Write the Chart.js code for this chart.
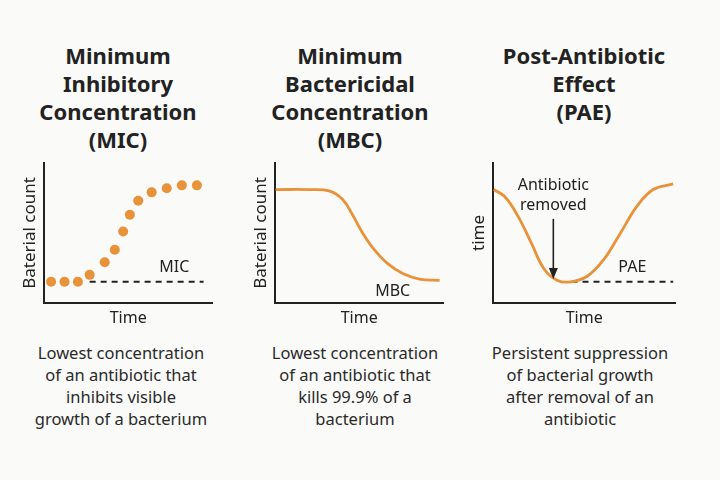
<!DOCTYPE html>
<html>
<head>
<meta charset="utf-8">
<script src="https://cdn.jsdelivr.net/npm/chart.js@4"></script>
<style>
  body { margin: 0; width: 720px; height: 480px; background: #fafaf8; font-family: "Noto Sans", sans-serif; color: #222; position: relative; overflow: hidden; }
  .title { position: absolute; top: 41px; width: 230px; text-align: center; font-weight: bold; font-size: 22px; line-height: 28px; }
  .desc { position: absolute; top: 342px; width: 240px; text-align: center; font-size: 16.5px; line-height: 22px; color: #2a2a2a; }
  .box { position: absolute; top: 150px; height: 190px; }
</style>
</head>
<body>
<div class="title" style="left:3px">Minimum<br>Inhibitory<br>Concentration<br>(MIC)</div>
<div class="title" style="left:235px">Minimum<br>Bactericidal<br>Concentration<br>(MBC)</div>
<div class="title" style="left:469px">Post-Antibiotic<br>Effect<br>(PAE)</div>

<div class="box" style="left:0px;width:230px"><canvas id="c1"></canvas></div>
<div class="box" style="left:240px;width:230px"><canvas id="c2"></canvas></div>
<div class="box" style="left:460px;width:260px"><canvas id="c3"></canvas></div>

<div class="desc" style="left:1px">Lowest concentration<br>of an antibiotic that<br>inhibits visible<br>growth of a bacterium</div>
<div class="desc" style="left:235px">Lowest concentration<br>of an antibiotic that<br>kills 99.9% of a<br>bacterium</div>
<div class="desc" style="left:460px">Persistent suppression<br>of bacterial growth<br>after removal of an<br>antibiotic</div>

<script>
// MIC panel: bacterial count readings over time
const micTime  = [0.4, 1.2, 2.0, 2.7, 3.6, 4.2, 4.7, 5.1, 5.6, 6.4, 7.3, 8.2, 9.1];
const micCount = [1.5, 1.5, 1.5, 2.0, 2.9, 3.8, 5.1, 6.3, 7.3, 7.9, 8.2, 8.4, 8.4];
const micLevel = 1.5;

// MBC panel: killing curve
const mbcTime  = [0, 2.0, 3.2, 4.0, 4.6, 5.2, 5.9, 6.7, 7.6, 8.6, 9.8];
const mbcCount = [8.1, 8.1, 8.0, 7.4, 6.3, 5.0, 3.8, 2.8, 2.1, 1.7, 1.6];

// PAE panel: suppression and regrowth
const paeTime  = [0, 0.62, 1.35, 2.08, 2.8, 3.53, 4.26, 5.17, 6.08, 7.0, 7.9, 8.8, 9.9];
const paeCount = [8.1, 7.6, 6.2, 4.3, 2.4, 1.6, 1.5, 1.9, 3.1, 5.0, 6.9, 8.1, 8.5];
const paeLevel = 1.5;

const orange = '#e8923a';
const ink = '#222';
const font = '"Noto Sans", sans-serif';

function pts(xs, ys) { return xs.map((x, i) => ({ x: x, y: ys[i] })); }

function axes(yTitle) {
  const common = {
    type: 'linear', min: 0, max: 10,
    grid: { display: false, drawTicks: false },
    ticks: { display: false },
    border: { display: true, color: ink, width: 2 }
  };
  return {
    x: Object.assign({}, common, {
      title: { display: true, text: 'Time', color: ink, font: { family: font, size: 16 }, padding: { top: 6, bottom: 2 } }
    }),
    y: Object.assign({}, common, {
      title: { display: true, text: yTitle, color: ink, font: { family: font, size: 17 }, padding: { top: 2, bottom: 4 } }
    })
  };
}

// labels and arrow drawn at data coordinates
const notes = {
  id: 'notes',
  afterDatasetsDraw(chart, args, opts) {
    const ctx = chart.ctx, xs = chart.scales.x, ys = chart.scales.y;
    ctx.save();
    ctx.fillStyle = ink;
    ctx.font = '16px ' + font;
    ctx.textAlign = 'center';
    ctx.textBaseline = 'middle';
    (opts.labels || []).forEach(l => {
      ctx.fillText(l.text, xs.getPixelForValue(l.x), ys.getPixelForValue(l.y));
    });
    if (opts.arrow) {
      const a = opts.arrow;
      const px = xs.getPixelForValue(a.x);
      const y0 = ys.getPixelForValue(a.from), y1 = ys.getPixelForValue(a.to);
      ctx.strokeStyle = ink;
      ctx.lineWidth = 1.6;
      ctx.beginPath(); ctx.moveTo(px, y0); ctx.lineTo(px, y1 - 8); ctx.stroke();
      ctx.beginPath(); ctx.moveTo(px, y1); ctx.lineTo(px - 4.5, y1 - 11); ctx.lineTo(px + 4.5, y1 - 11); ctx.closePath(); ctx.fill();
    }
    ctx.restore();
  }
};

function dashed(x0, x1, y) {
  return {
    data: [{ x: x0, y: y }, { x: x1, y: y }],
    borderColor: ink, borderWidth: 2, borderDash: [6, 5],
    pointRadius: 0, fill: false, order: 2
  };
}

function make(id, datasets, yTitle, padding, noteOpts) {
  return new Chart(document.getElementById(id), {
    type: 'line',
    data: { datasets: datasets },
    options: {
      responsive: true, maintainAspectRatio: false, animation: false,
      layout: { padding: padding },
      plugins: { legend: { display: false }, tooltip: { enabled: false }, notes: noteOpts },
      scales: axes(yTitle)
    },
    plugins: [notes]
  });
}

make('c1', [
  dashed(2.7, 9.5, micLevel),
  { data: pts(micTime, micCount), showLine: false, pointRadius: 5, pointBackgroundColor: orange, pointBorderWidth: 0, order: 1 }
], 'Baterial count', { left: 18, right: 18, top: 13, bottom: 10 },
  { labels: [{ text: 'MIC', x: 7.75, y: 2.55 }] });

make('c2', [
  { data: pts(mbcTime, mbcCount), borderColor: orange, borderWidth: 2.8, pointRadius: 0, tension: 0.4 }
], 'Baterial count', { left: 9, right: 27, top: 13, bottom: 10 },
  { labels: [{ text: 'MBC', x: 7.0, y: 0.8 }] });

make('c3', [
  dashed(4.3, 9.9, paeLevel),
  { data: pts(paeTime, paeCount), borderColor: orange, borderWidth: 2.8, pointRadius: 0, tension: 0.4, order: 1 }
], 'time', { left: 7, right: 45, top: 13, bottom: 10 },
  { labels: [{ text: 'Antibiotic', x: 3.3, y: 8.4 }, { text: 'removed', x: 3.3, y: 7.0 }, { text: 'PAE', x: 7.65, y: 2.55 }],
    arrow: { x: 3.3, from: 6.0, to: 1.7 } });
</script>
</body>
</html>
